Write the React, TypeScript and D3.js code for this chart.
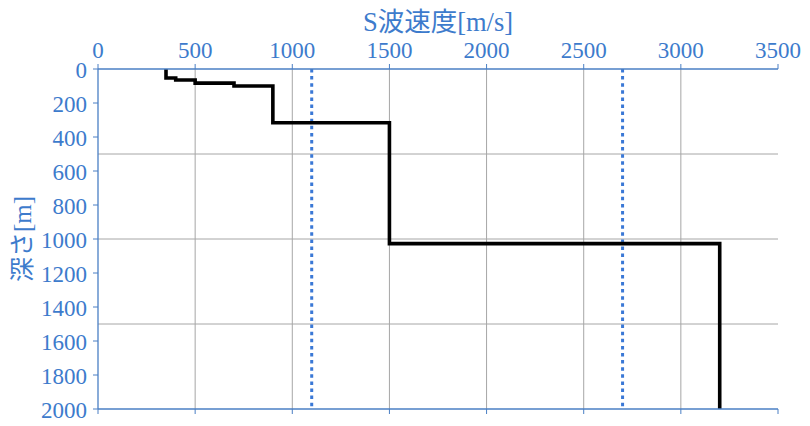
import { useMemo } from 'react'
import { line, scaleLinear } from 'd3'

// layered S-wave velocity profile
const velocities = [350, 400, 500, 700, 900, 1500, 3200]
const layerTops = [0, 53, 65, 83, 100, 316, 1027]
const maxDepth = 2000
const refVelocities = [1100, 2700]
const xTicks = [0, 500, 1000, 1500, 2000, 2500, 3000, 3500]
const yTicks = [0, 200, 400, 600, 800, 1000, 1200, 1400, 1600, 1800, 2000]
const gridDepths = [500, 1000, 1500]
const xTitle = 'S波速度[m/s]'
const yTitle = '深さ[m]'

const blue = '#3d7bcc'
const axisBlue = '#4a7fc4'
const gridGray = '#a6a6a6'
const font = '"Liberation Serif", "Noto Sans CJK JP", serif'

export default function App() {
  const width = 810
  const height = 426
  const margin = { top: 69, right: 32, bottom: 17, left: 98 }

  const x = useMemo(
    () => scaleLinear().domain([0, 3500]).range([margin.left, width - margin.right]),
    []
  )
  const y = useMemo(
    () => scaleLinear().domain([0, maxDepth]).range([margin.top, height - margin.bottom]),
    []
  )

  const profile: [number, number][] = []
  velocities.forEach((v, i) => {
    const bottom = i + 1 < layerTops.length ? layerTops[i + 1] : maxDepth
    profile.push([v, layerTops[i]], [v, bottom])
  })
  const path = line<[number, number]>()
    .x((d) => x(d[0]))
    .y((d) => y(d[1]))(profile)

  const x0 = x(0)
  const x1 = x(3500)
  const y0 = y(0)
  const y1 = y(maxDepth)

  return (
    <svg
      width={width}
      height={height}
      style={{ position: 'absolute', left: 0, top: 0, background: '#fff' }}
      fontFamily={font}
    >
      {/* grid */}
      {xTicks.slice(1, -1).map((t) => (
        <line key={'gx' + t} x1={x(t)} x2={x(t)} y1={y0} y2={y1} stroke={gridGray} strokeWidth={1} />
      ))}
      {gridDepths.map((d) => (
        <line key={'gy' + d} x1={x0} x2={x1} y1={y(d)} y2={y(d)} stroke={gridGray} strokeWidth={1} />
      ))}

      {/* reference velocities */}
      {refVelocities.map((v) => (
        <line
          key={'r' + v}
          x1={x(v)}
          x2={x(v)}
          y1={y0}
          y2={y1}
          stroke="#3a78d6"
          strokeWidth={3}
          strokeDasharray="3.5,3.6"
        />
      ))}

      {/* profile */}
      <path d={path ?? ''} fill="none" stroke="#000" strokeWidth={3.6} strokeLinejoin="miter" />

      {/* top axis */}
      <line x1={x0} x2={x1} y1={y0} y2={y0} stroke={axisBlue} strokeWidth={1.3} />
      {xTicks.map((t) => (
        <g key={'tx' + t}>
          <line x1={x(t)} x2={x(t)} y1={y0} y2={y0 - 5} stroke={axisBlue} strokeWidth={1} />
          <text x={x(t)} y={57.5} textAnchor="middle" fontSize={23} fill={blue}>
            {t}
          </text>
        </g>
      ))}

      {/* bottom axis */}
      <line x1={x0} x2={x1} y1={y1} y2={y1} stroke={axisBlue} strokeWidth={1.3} />
      {xTicks.map((t) => (
        <line key={'bx' + t} x1={x(t)} x2={x(t)} y1={y1} y2={y1 + 5} stroke={axisBlue} strokeWidth={1} />
      ))}

      {/* left axis */}
      <line x1={x0} x2={x0} y1={y0} y2={y1} stroke={axisBlue} strokeWidth={1.3} />
      {yTicks.map((t) => (
        <g key={'ty' + t}>
          <line x1={x0 - 5} x2={x0} y1={y(t)} y2={y(t)} stroke={axisBlue} strokeWidth={1} />
          <text x={87} y={y(t) + 9} textAnchor="end" fontSize={23} fill={blue}>
            {t}
          </text>
        </g>
      ))}

      {/* titles */}
      <text x={(x0 + x1) / 2} y={31} textAnchor="middle" fontSize={26.5} fill={blue}>
        {xTitle}
      </text>
      <text
        transform={`translate(22,${(y0 + y1) / 2}) rotate(-90)`}
        textAnchor="middle"
        dominantBaseline="central"
        fontSize={25}
        fill={blue}
      >
        {yTitle}
      </text>
    </svg>
  )
}
